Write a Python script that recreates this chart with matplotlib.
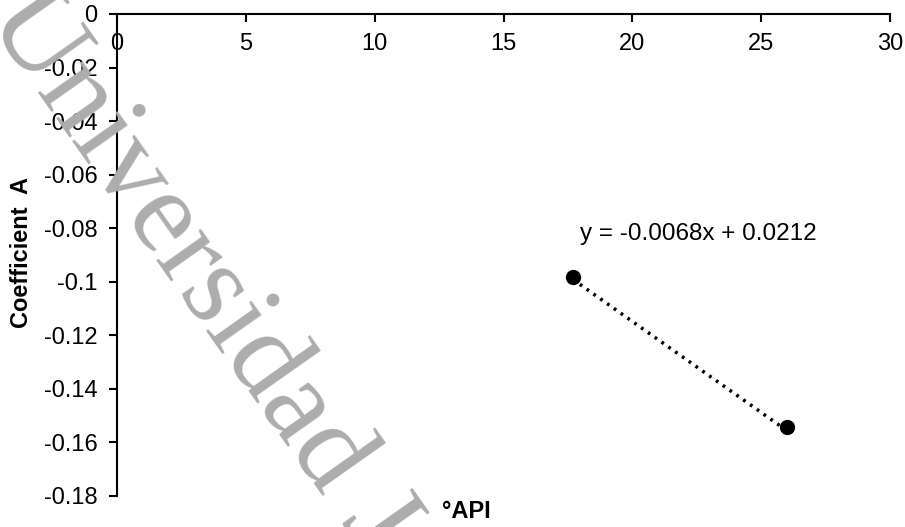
import numpy as np
import matplotlib.pyplot as plt

# API gravity vs fitted coefficient A
api = [17.7, 26.0]
coef_a = [-0.0982, -0.1542]
slope, intercept = -0.0068, 0.0212

x_ticks = [0, 5, 10, 15, 20, 25, 30]
y_ticks = [0, -0.02, -0.04, -0.06, -0.08, -0.1, -0.12, -0.14, -0.16, -0.18]
y_tick_labels = ['0', '-0.02', '-0.04', '-0.06', '-0.08', '-0.1', '-0.12', '-0.14', '-0.16', '-0.18']

plt.rcParams['font.family'] = ['Liberation Sans', 'DejaVu Sans']

fig = plt.figure(figsize=(9.05, 5.27), dpi=100)
ax = fig.add_axes([117/905, 1 - 496/527, (890 - 117)/905, (496 - 14)/527])
ax.patch.set_alpha(0)

# watermark behind the chart
fig.text(-14/905, 1 - 19/527, 'Universidad Javeriana', rotation=-54.8, rotation_mode='anchor',
         ha='left', va='baseline', fontsize=86, family='Liberation Serif',
         color='#adadad', zorder=0)

ax.set_xlim(0, 30)
ax.set_ylim(-0.18, 0)

# trendline over the two points
xs = np.array(api)
ax.plot(xs, slope * xs + intercept, linestyle=(0, (0.8, 1.6)), color='black', linewidth=2.5, zorder=2)
ax.plot(api, coef_a, 'o', color='black', markersize=10, zorder=3)
ax.text(17.95, -0.082, 'y = -0.0068x + 0.0212', fontsize=17.5, ha='left', va='center')

# x axis drawn along y = 0 at the top
ax.spines['bottom'].set_position(('data', 0))
ax.spines['top'].set_visible(False)
ax.spines['right'].set_visible(False)
for s in ['bottom', 'left']:
    ax.spines[s].set_linewidth(1.5)

ax.set_xticks(x_ticks)
ax.set_yticks(y_ticks)
ax.set_yticklabels(y_tick_labels)
ax.tick_params(axis='both', direction='out', length=6, width=1.5, labelsize=17)
ax.tick_params(axis='x', pad=8)
ax.tick_params(axis='y', pad=8)

fig.text(466/905, 1 - 511/527, '°API', fontsize=17, fontweight='bold', ha='center', va='center')
fig.text(21/905, 1 - 253/527, 'Coefficient  A', fontsize=17, fontweight='bold',
         rotation=90, ha='center', va='center')

plt.savefig('out.png', dpi=100)
